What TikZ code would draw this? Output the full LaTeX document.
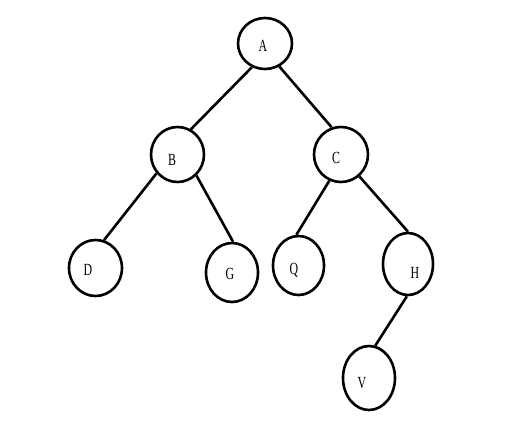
\documentclass[tikz,border=0pt]{standalone}
\usepackage{fontspec}
\setmainfont{Liberation Serif}
\usetikzlibrary{shapes.geometric}
\begin{document}
\begin{tikzpicture}[x=1pt,y=-1pt,
  vert/.style={ellipse,draw=black,line width=2.6pt,inner sep=0pt,fill=white},
  lbl/.style={inner sep=0pt,font=\fontsize{17}{17}\selectfont},
  edge/.style={line width=2.6pt}]
\useasboundingbox (0,0) rectangle (526,420);
\node[vert,minimum width=54pt,minimum height=51pt] (A) at (265,43.5) {};
\node[vert,minimum width=53pt,minimum height=55pt] (B) at (177.5,154.5) {};
\node[vert,minimum width=54pt,minimum height=55pt] (C) at (341,154.5) {};
\node[vert,minimum width=53pt,minimum height=56pt] (D) at (95.5,268) {};
\node[vert,minimum width=52pt,minimum height=59pt] (G) at (232,272.5) {};
\node[vert,minimum width=51pt,minimum height=59pt] (Q) at (298.5,265.5) {};
\node[vert,minimum width=50pt,minimum height=62pt] (H) at (408,264) {};
\node[vert,minimum width=52pt,minimum height=64pt] (V) at (369,378) {};
\draw[edge] (A.241) -- (B.62);
\draw[edge] (A.302) -- (C.109);
\draw[edge] (B.222) -- (D.73);
\draw[edge] (B.312) -- (G.88);
\draw[edge] (C.246) -- (Q.94);
\draw[edge] (C.310) -- (H.90);
\draw[edge] (H.268) -- (V.79);
\node[lbl] (lA) at (263,46) {\scalebox{0.7}[1]{A}};
\node[lbl] (lB) at (172,160) {\scalebox{0.7}[1]{B}};
\node[lbl] (lC) at (336,158) {\scalebox{0.7}[1]{C}};
\node[lbl] (lD) at (88,270) {\scalebox{0.7}[1]{D}};
\node[lbl] (lG) at (230,274) {\scalebox{0.7}[1]{G}};
\node[lbl] (lQ) at (294,270) {\scalebox{0.7}[1]{Q}};
\node[lbl] (lH) at (415,273) {\scalebox{0.7}[1]{H}};
\node[lbl] (lV) at (362,383) {\scalebox{0.7}[1]{V}};
\end{tikzpicture}
\end{document}
